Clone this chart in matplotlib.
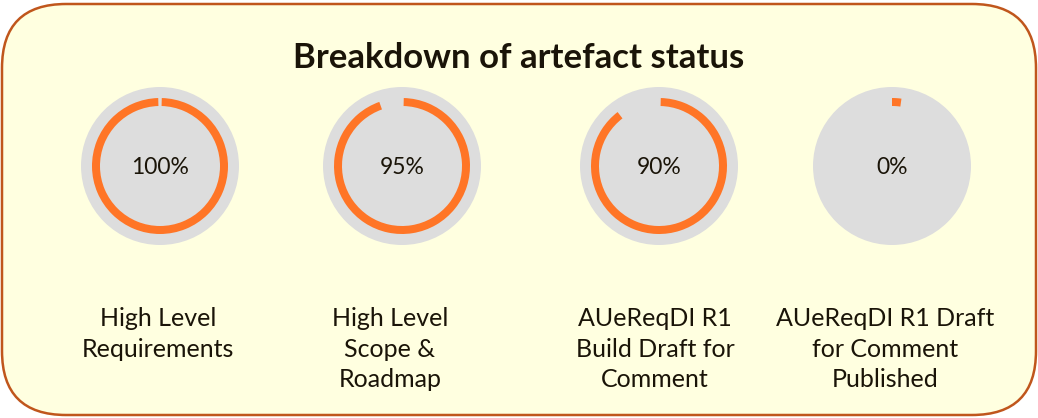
import matplotlib
matplotlib.use("Agg")
import matplotlib.pyplot as plt
from matplotlib.patches import Circle, Wedge, FancyBboxPatch

# data
title = "Breakdown of artefact status"
categories = [
    "High Level\nRequirements",
    "High Level\nScope &\nRoadmap",
    "AUeReqDI R1\nBuild Draft for\nComment",
    "AUeReqDI R1 Draft\nfor Comment\nPublished",
]
percent = [100, 95, 90, 0]

# layout (pixels, y measured from top)
W, H = 1038, 418
centers_x = [160, 402, 659, 892]
label_x = [158, 390, 655, 885]
center_y = 166
r_bg = 79
r_ring = 68
ring_w = 8

plt.rcParams['font.family'] = ['Lato', 'DejaVu Sans']

fig = plt.figure(figsize=(W / 100, H / 100), dpi=100)
fig.patch.set_facecolor('white')
ax = fig.add_axes([0, 0, 1, 1])
ax.set_xlim(0, W)
ax.set_ylim(0, H)
ax.set_aspect('equal')
ax.axis('off')

def Y(y):
    return H - y

rad = 64
box = FancyBboxPatch((2 + rad, Y(415) + rad), W - 4 - 2 * rad, 411 - 2 * rad,
                     boxstyle=f"round,pad={rad}", facecolor='#FFFFE0',
                     edgecolor='#C0561C', linewidth=1.8)
ax.add_patch(box)

ax.text(W / 2, Y(58), title, ha='center', va='center', fontsize=25,
        fontweight='bold', color='#1a1408')

for cx, lx, p, lab in zip(centers_x, label_x, percent, categories):
    ax.add_patch(Circle((cx, Y(center_y)), r_bg, facecolor='#DDDDDD', edgecolor='none'))
    extent = max(p / 100 * 360 - 3, 8)
    t2 = 90 - 1.5 if p > 0 else 90
    ax.add_patch(Wedge((cx, Y(center_y)), r_ring, t2 - extent, t2, width=ring_w,
                       facecolor='#FF7526', edgecolor='none'))
    ax.text(cx, Y(center_y + 1), f"{p}%", ha='center', va='center', fontsize=16.5,
            color='#1a1408')
    ax.text(lx, Y(307), lab, ha='center', va='top', fontsize=18,
            color='#1a1408', linespacing=1.4)

fig.savefig('out.png', dpi=100, facecolor=fig.get_facecolor())
